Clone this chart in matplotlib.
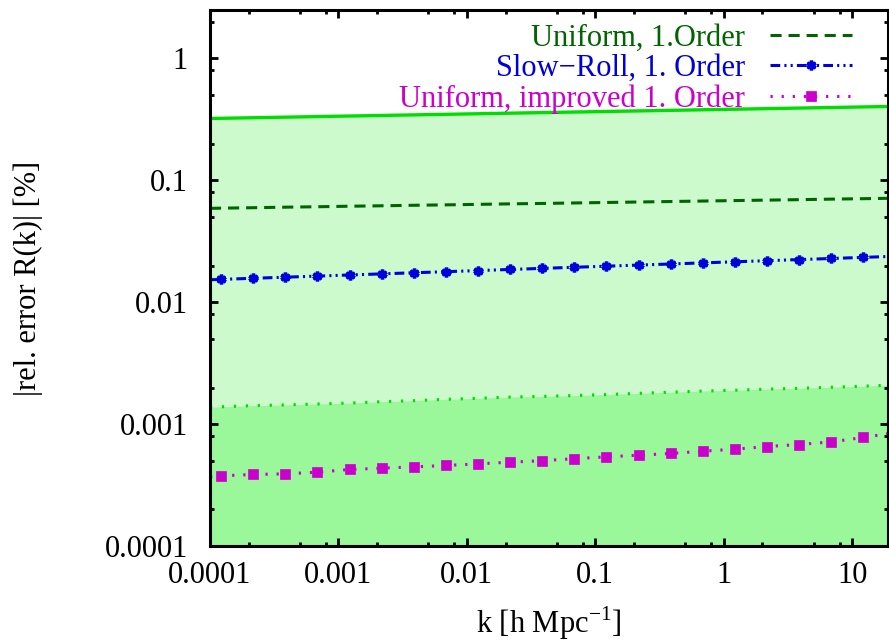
import numpy as np
import matplotlib.pyplot as plt
from matplotlib.ticker import FixedLocator, LogLocator, FuncFormatter, NullFormatter

plt.rcParams['font.family'] = ['Liberation Serif', 'DejaVu Serif']
plt.rcParams['mathtext.fontset'] = 'custom'
plt.rcParams['mathtext.rm'] = 'Liberation Serif'
plt.rcParams['lines.scale_dashes'] = False

# wavenumber grid [h/Mpc]
k = [1.0e-4, 1.22e-4, 2.17e-4, 3.86e-4, 6.86e-4, 1.22e-3, 2.17e-3, 3.86e-3,
     6.86e-3, 1.22e-2, 2.17e-2, 3.86e-2, 6.86e-2, 0.122, 0.217, 0.386,
     0.686, 1.22, 2.17, 3.86, 6.86, 12.2, 19.0]

# relative errors in percent
err_bound = [0.322, 0.3232, 0.3267, 0.3302, 0.3338, 0.3374, 0.3410, 0.3447,
             0.3484, 0.3522, 0.3560, 0.3598, 0.3637, 0.3676, 0.3716, 0.3756,
             0.3797, 0.3838, 0.3879, 0.3921, 0.3963, 0.4006, 0.4040]
err_uniform = [0.0590, 0.0592, 0.0597, 0.0603, 0.0608, 0.0614, 0.0619, 0.0625,
               0.0630, 0.0636, 0.0642, 0.0647, 0.0653, 0.0659, 0.0665, 0.0671,
               0.0677, 0.0683, 0.0689, 0.0695, 0.0702, 0.0708, 0.0713]
err_slowroll = [0.01531, 0.01542, 0.01574, 0.01607, 0.01641, 0.01675, 0.01711,
                0.01747, 0.01783, 0.01821, 0.01859, 0.01898, 0.01938, 0.01978,
                0.02020, 0.02062, 0.02106, 0.02150, 0.02195, 0.02241, 0.02288,
                0.02336, 0.02375]
err_bound_impr = [1.377e-3, 1.39e-3, 1.42e-3, 1.44e-3, 1.465e-3, 1.49e-3, 1.53e-3,
                  1.56e-3, 1.60e-3, 1.63e-3, 1.67e-3, 1.69e-3, 1.72e-3, 1.75e-3,
                  1.79e-3, 1.83e-3, 1.87e-3, 1.90e-3, 1.94e-3, 1.97e-3, 2.01e-3,
                  2.05e-3, 2.09e-3]
err_improved = [3.713e-4, 3.769e-4, 3.870e-4, 3.914e-4, 4.042e-4, 4.253e-4,
                4.358e-4, 4.467e-4, 4.586e-4, 4.727e-4, 4.881e-4, 5.021e-4,
                5.214e-4, 5.395e-4, 5.570e-4, 5.751e-4, 6.006e-4, 6.237e-4,
                6.563e-4, 6.816e-4, 7.160e-4, 7.780e-4, 8.358e-4]

x_ticks = [1e-4, 1e-3, 1e-2, 1e-1, 1, 10]
y_ticks = [1e-4, 1e-3, 1e-2, 1e-1, 1]

fig = plt.figure(figsize=(8.89, 6.44), dpi=100)
ax = fig.add_axes([0.2362, 0.152, 0.7627, 0.8325])

floor = 1e-5
ax.fill_between(k, floor, err_bound, color='#ccfacc', lw=0, zorder=1)
ax.fill_between(k, floor, err_bound_impr, color='#9af79a', lw=0, zorder=1)
ax.plot(k, err_bound, color='#00dd00', lw=2.4, zorder=2)
ax.plot(k, err_bound_impr, color='#00dd00', lw=2.2, dashes=(1.6, 7.0), zorder=2)

marks = slice(1, 22)
ax.plot(k, err_uniform, color='#006400', lw=2.2, dashes=(8, 5), zorder=3,
        label='Uniform, 1.Order')
ax.plot(k, err_slowroll, color='#0000dd', lw=2.2, dashes=(7, 3, 1.5, 3, 1.5, 3),
        marker=(6, 2, 0), ms=7, mew=2.5, markevery=marks, zorder=3,
        label='Slow\u2212Roll, 1. Order')
ax.plot(k, err_improved, color='#cc00cc', lw=2.2, dashes=(1.6, 6.4),
        marker='s', ms=6.5, mew=0.5, markevery=marks, zorder=3,
        label='Uniform, improved 1. Order')

ax.set_xscale('log')
ax.set_yscale('log')
ax.set_xlim(1e-4, 19)
ax.set_ylim(1e-4, 2.5)

fmt = FuncFormatter(lambda v, _: f'{v:g}')
ax.xaxis.set_major_locator(FixedLocator(x_ticks))
ax.yaxis.set_major_locator(FixedLocator(y_ticks))
ax.xaxis.set_major_formatter(fmt)
ax.yaxis.set_major_formatter(fmt)
ax.xaxis.set_minor_locator(LogLocator(base=10, subs=(2, 5, 8), numticks=20))
ax.yaxis.set_minor_locator(LogLocator(base=10, subs=(2, 5, 8), numticks=20))
ax.xaxis.set_minor_formatter(NullFormatter())
ax.yaxis.set_minor_formatter(NullFormatter())

ax.tick_params(which='both', direction='in', top=True, right=True,
               width=2.0, labelsize=22, zorder=5)
ax.tick_params(which='major', length=6)
ax.tick_params(which='minor', length=3)
ax.tick_params(axis='y', pad=16)
ax.tick_params(axis='x', pad=11)
for sp in ax.spines.values():
    sp.set_linewidth(2.2)
    sp.set_zorder(6)

ax.set_xlabel(r'k [h Mpc$^{-1}$]', fontsize=22, labelpad=10)
ax.set_ylabel('|rel. error R(k)| [%]', fontsize=22, labelpad=44)

leg = ax.legend(loc='upper right', bbox_to_anchor=(0.947, 0.975),
                frameon=False, fontsize=22, markerfirst=False, numpoints=1,
                handlelength=2.7, handletextpad=0.8, labelspacing=0.05,
                borderpad=0, borderaxespad=0, labelcolor='linecolor')

fig.savefig('out.png', dpi=100)
